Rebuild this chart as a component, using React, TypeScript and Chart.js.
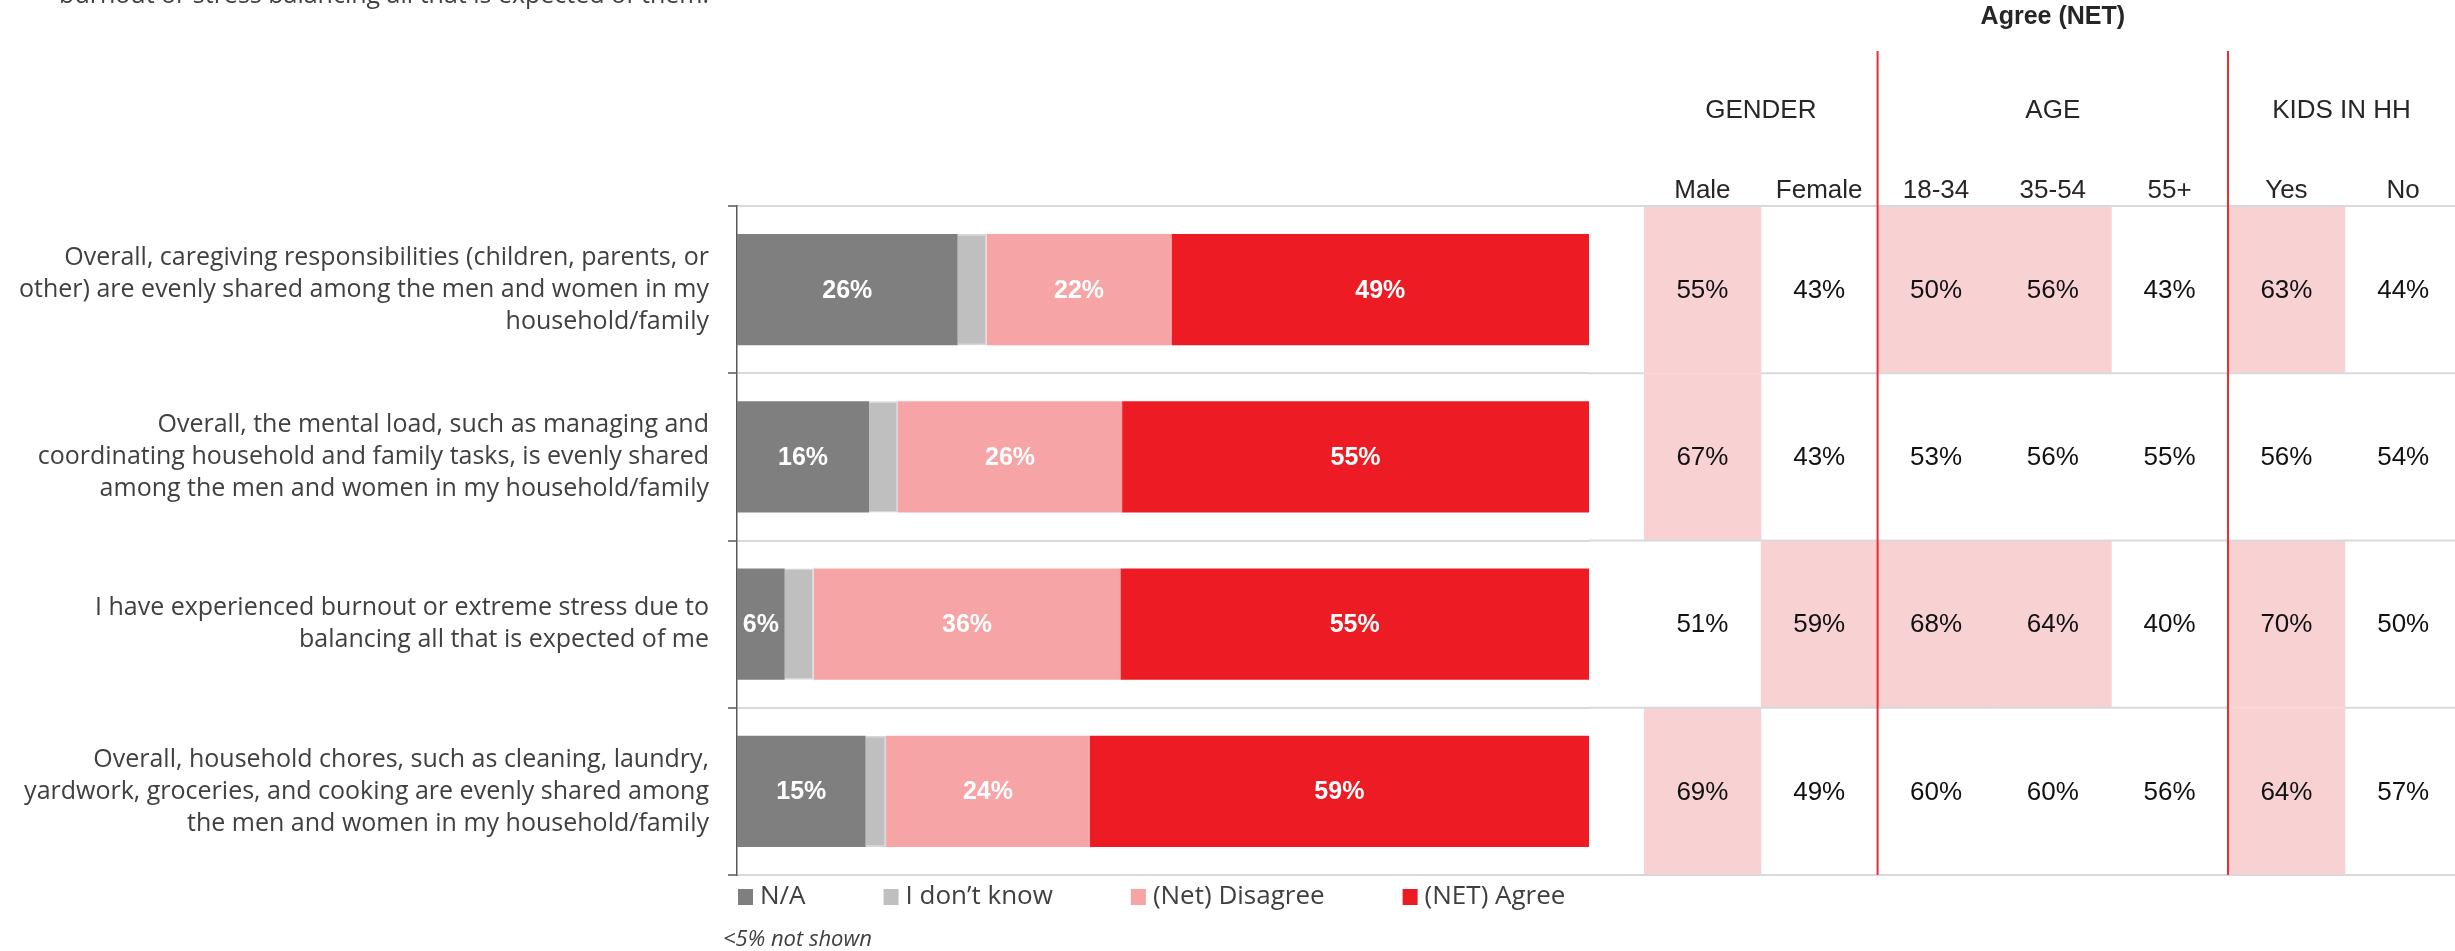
import React, { useEffect, useRef } from "react";
import { Chart, registerables } from "chart.js";

Chart.register(...registerables);

// ---------- data ----------
const categories: string[][] = [
  [
    "Overall, caregiving responsibilities (children, parents, or",
    "other) are evenly shared among the men and women in my",
    "household/family",
  ],
  [
    "Overall, the mental load, such as managing and",
    "coordinating household and family tasks, is evenly shared",
    "among the men and women in my household/family",
  ],
  [
    "I have experienced burnout or extreme stress due to",
    "balancing all that is expected of me",
  ],
  [
    "Overall, household chores, such as cleaning, laundry,",
    "yardwork, groceries, and cooking are evenly shared among",
    "the men and women in my household/family",
  ],
];

const seriesLabels = ["N/A", "I don’t know", "(Net) Disagree", "(NET) Agree"];
const naValues = [25.9, 15.5, 5.6, 15.1];
const dontKnowValues = [3.4, 3.4, 3.4, 2.4];
const disagreeValues = [21.7, 26.3, 36.0, 23.9];
const agreeValues = [49.0, 54.8, 55.0, 58.6];

const tableTitle = "Agree (NET)";
const groupLabels = ["GENDER", "AGE", "KIDS IN HH"];
const groupSpans = [2, 3, 2];
const columnLabels = ["Male", "Female", "18-34", "35-54", "55+", "Yes", "No"];

const maleAgree = [55, 67, 51, 69];
const femaleAgree = [43, 43, 59, 49];
const age1834Agree = [50, 53, 68, 60];
const age3554Agree = [56, 56, 64, 60];
const age55Agree = [43, 55, 40, 56];
const kidsYesAgree = [63, 56, 70, 64];
const kidsNoAgree = [44, 54, 50, 57];

const maleHigh = [true, true, false, true];
const femaleHigh = [false, false, true, false];
const age1834High = [true, false, true, false];
const age3554High = [true, false, true, false];
const age55High = [false, false, false, false];
const kidsYesHigh = [true, false, true, true];
const kidsNoHigh = [false, false, false, false];

const hiddenSubtitle = "burnout or stress balancing all that is expected of them.";
const footnote = "<5% not shown";
const labelThreshold = 5;

// ---------- style ----------
const seriesColors = ["#7F7F7F", "#BFBFBF", "#F7A4A7", "#ED1C24"];
const W = 2455;
const H = 951;
const SANS = "'Open Sans', 'Noto Sans', sans-serif";
const ARIAL = "'Liberation Sans', Arial, sans-serif";
const TEXT = "#404040";
const GRID = "#D9D9D9";
const TABLE_LEFT = 1644;
const COL_W = 116.8;
const HIGHLIGHT = "#F8D1D3";
const RED_LINE = "#EE2A33";

const tableValues = [
  maleAgree,
  femaleAgree,
  age1834Agree,
  age3554Agree,
  age55Agree,
  kidsYesAgree,
  kidsNoAgree,
];
const tableHigh = [
  maleHigh,
  femaleHigh,
  age1834High,
  age3554High,
  age55High,
  kidsYesHigh,
  kidsNoHigh,
];

const dataLabelPlugin = {
  id: "dataLabels",
  afterDatasetsDraw(chart: any) {
    const ctx = chart.ctx;
    ctx.save();
    ctx.font = `bold 25px ${ARIAL}`;
    ctx.fillStyle = "#FFFFFF";
    ctx.textAlign = "center";
    ctx.textBaseline = "middle";
    chart.data.datasets.forEach((ds: any, di: number) => {
      if (di === 1) return;
      const meta = chart.getDatasetMeta(di);
      meta.data.forEach((el: any, i: number) => {
        const v = ds.data[i];
        if (v < labelThreshold) return;
        const p = el.getCenterPoint();
        ctx.fillText(`${Math.round(v)}%`, p.x, p.y + 1);
      });
    });
    ctx.restore();
  },
};

const tablePlugin = {
  id: "sideTable",
  afterDraw(chart: any) {
    const ctx = chart.ctx;
    const ys = chart.scales.y;
    const area = chart.chartArea;
    const n = categories.length;
    const bounds: number[] = [];
    for (let i = 0; i <= n; i++) {
      if (i === 0) bounds.push(area.top);
      else if (i === n) bounds.push(area.bottom);
      else bounds.push((ys.getPixelForValue(i - 1) + ys.getPixelForValue(i)) / 2);
    }
    const colX = (c: number) => TABLE_LEFT + c * COL_W;
    ctx.save();

    // highlight cells
    ctx.fillStyle = HIGHLIGHT;
    tableHigh.forEach((col, c) => {
      col.forEach((h, r) => {
        if (!h) return;
        ctx.fillRect(colX(c), bounds[r], COL_W + 0.5, bounds[r + 1] - bounds[r]);
      });
    });

    // separators: extension of the row grid across the table
    ctx.strokeStyle = GRID;
    ctx.lineWidth = 2;
    for (let i = 0; i <= n; i++) {
      const y = bounds[i];
      ctx.beginPath();
      ctx.moveTo(area.right, y);
      ctx.lineTo(TABLE_LEFT, y);
      ctx.stroke();
      for (let c = 0; c < tableHigh.length; c++) {
        const above = i > 0 && tableHigh[c][i - 1];
        const below = i < n && tableHigh[c][i];
        if (i > 0 && i < n && above && below) continue;
        ctx.beginPath();
        ctx.moveTo(colX(c), y);
        ctx.lineTo(colX(c + 1), y);
        ctx.stroke();
      }
    }

    // red group dividers
    ctx.strokeStyle = RED_LINE;
    ctx.lineWidth = 2;
    let acc = 0;
    for (let g = 0; g < groupSpans.length - 1; g++) {
      acc += groupSpans[g];
      const x = colX(acc);
      ctx.beginPath();
      ctx.moveTo(x, 51);
      ctx.lineTo(x, bounds[n]);
      ctx.stroke();
    }

    // title
    ctx.fillStyle = "#262626";
    ctx.textAlign = "center";
    ctx.textBaseline = "middle";
    ctx.font = `bold 25px ${ARIAL}`;
    ctx.fillText(tableTitle, colX(2) + (COL_W * 3) / 2, 17);

    // group labels
    ctx.font = `26px ${ARIAL}`;
    acc = 0;
    groupLabels.forEach((g, gi) => {
      const x0 = colX(acc);
      acc += groupSpans[gi];
      const x1 = Math.min(colX(acc), W);
      ctx.fillText(g, (x0 + x1) / 2, 111);
    });

    // column labels
    ctx.font = `26px ${ARIAL}`;
    columnLabels.forEach((c, ci) => {
      ctx.fillText(c, colX(ci) + COL_W / 2, 191);
    });

    // values
    ctx.fillStyle = "#111111";
    ctx.font = `26px ${ARIAL}`;
    tableValues.forEach((col, c) => {
      col.forEach((v, r) => {
        ctx.fillText(`${v}%`, colX(c) + COL_W / 2, ys.getPixelForValue(r) + 1);
      });
    });

    // clipped subtitle line at the very top
    ctx.fillStyle = TEXT;
    ctx.textAlign = "right";
    ctx.textBaseline = "alphabetic";
    ctx.font = `25px ${SANS}`;
    ctx.fillText(hiddenSubtitle, 709, 3);

    // legend
    const ly = 897;
    let lx = 738;
    ctx.font = `26px ${SANS}`;
    ctx.textAlign = "left";
    ctx.textBaseline = "middle";
    chart.data.datasets.forEach((ds: any) => {
      ctx.fillStyle = ds.backgroundColor;
      ctx.fillRect(lx, ly - 8, 15, 16);
      ctx.fillStyle = TEXT;
      const tx = lx + 22;
      ctx.fillText(ds.label, tx, ly);
      lx = tx + ctx.measureText(ds.label).width + 78;
    });

    // footnote
    ctx.font = `italic 22px ${SANS}`;
    ctx.fillStyle = TEXT;
    ctx.textBaseline = "alphabetic";
    ctx.fillText(footnote, 723, 946);

    ctx.restore();
  },
};

export default function App() {
  const canvasRef = useRef<HTMLCanvasElement | null>(null);

  useEffect(() => {
    const canvas = canvasRef.current;
    if (!canvas) return;
    const chart = new Chart(canvas, {
      type: "bar",
      data: {
        labels: categories as any,
        datasets: [
          { label: seriesLabels[0], data: naValues, backgroundColor: seriesColors[0] },
          {
            label: seriesLabels[1],
            data: dontKnowValues,
            backgroundColor: seriesColors[1],
            borderColor: "#D6D6D6",
            borderWidth: 1.5,
          },
          { label: seriesLabels[2], data: disagreeValues, backgroundColor: seriesColors[2] },
          { label: seriesLabels[3], data: agreeValues, backgroundColor: seriesColors[3] },
        ],
      },
      options: {
        indexAxis: "y",
        responsive: false,
        animation: false,
        devicePixelRatio: 1,
        layout: { padding: { top: 206, bottom: 76, left: 0, right: W - 1589 } },
        datasets: {
          bar: { barPercentage: 0.664, categoryPercentage: 1 },
        },
        scales: {
          x: { type: "linear", stacked: true, min: 0, max: 100, display: false },
          y: {
            type: "category",
            stacked: true,
            offset: true,
            grid: {
              display: true,
              offset: true,
              color: GRID,
              lineWidth: 2,
              drawOnChartArea: true,
              drawTicks: true,
              tickLength: 9,
              tickColor: "#595959",
              tickWidth: 1.5,
            },
            border: { display: true, color: "#595959", width: 1.5 },
            ticks: {
              color: TEXT,
              autoSkip: false,
              padding: 19,
              font: { family: SANS, size: 25, lineHeight: 1.28 },
            },
            afterFit: (s: any) => {
              s.width = 737;
            },
          },
        },
        plugins: {
          legend: { display: false },
          tooltip: { enabled: false },
          title: { display: false },
        },
      },
      plugins: [dataLabelPlugin, tablePlugin],
    } as any);
    return () => chart.destroy();
  }, []);

  return (
    <div style={{ position: "absolute", left: 0, top: 0, width: W, height: H, background: "#fff" }}>
      <canvas ref={canvasRef} width={W} height={H} style={{ width: W, height: H, display: "block" }} />
    </div>
  );
}
